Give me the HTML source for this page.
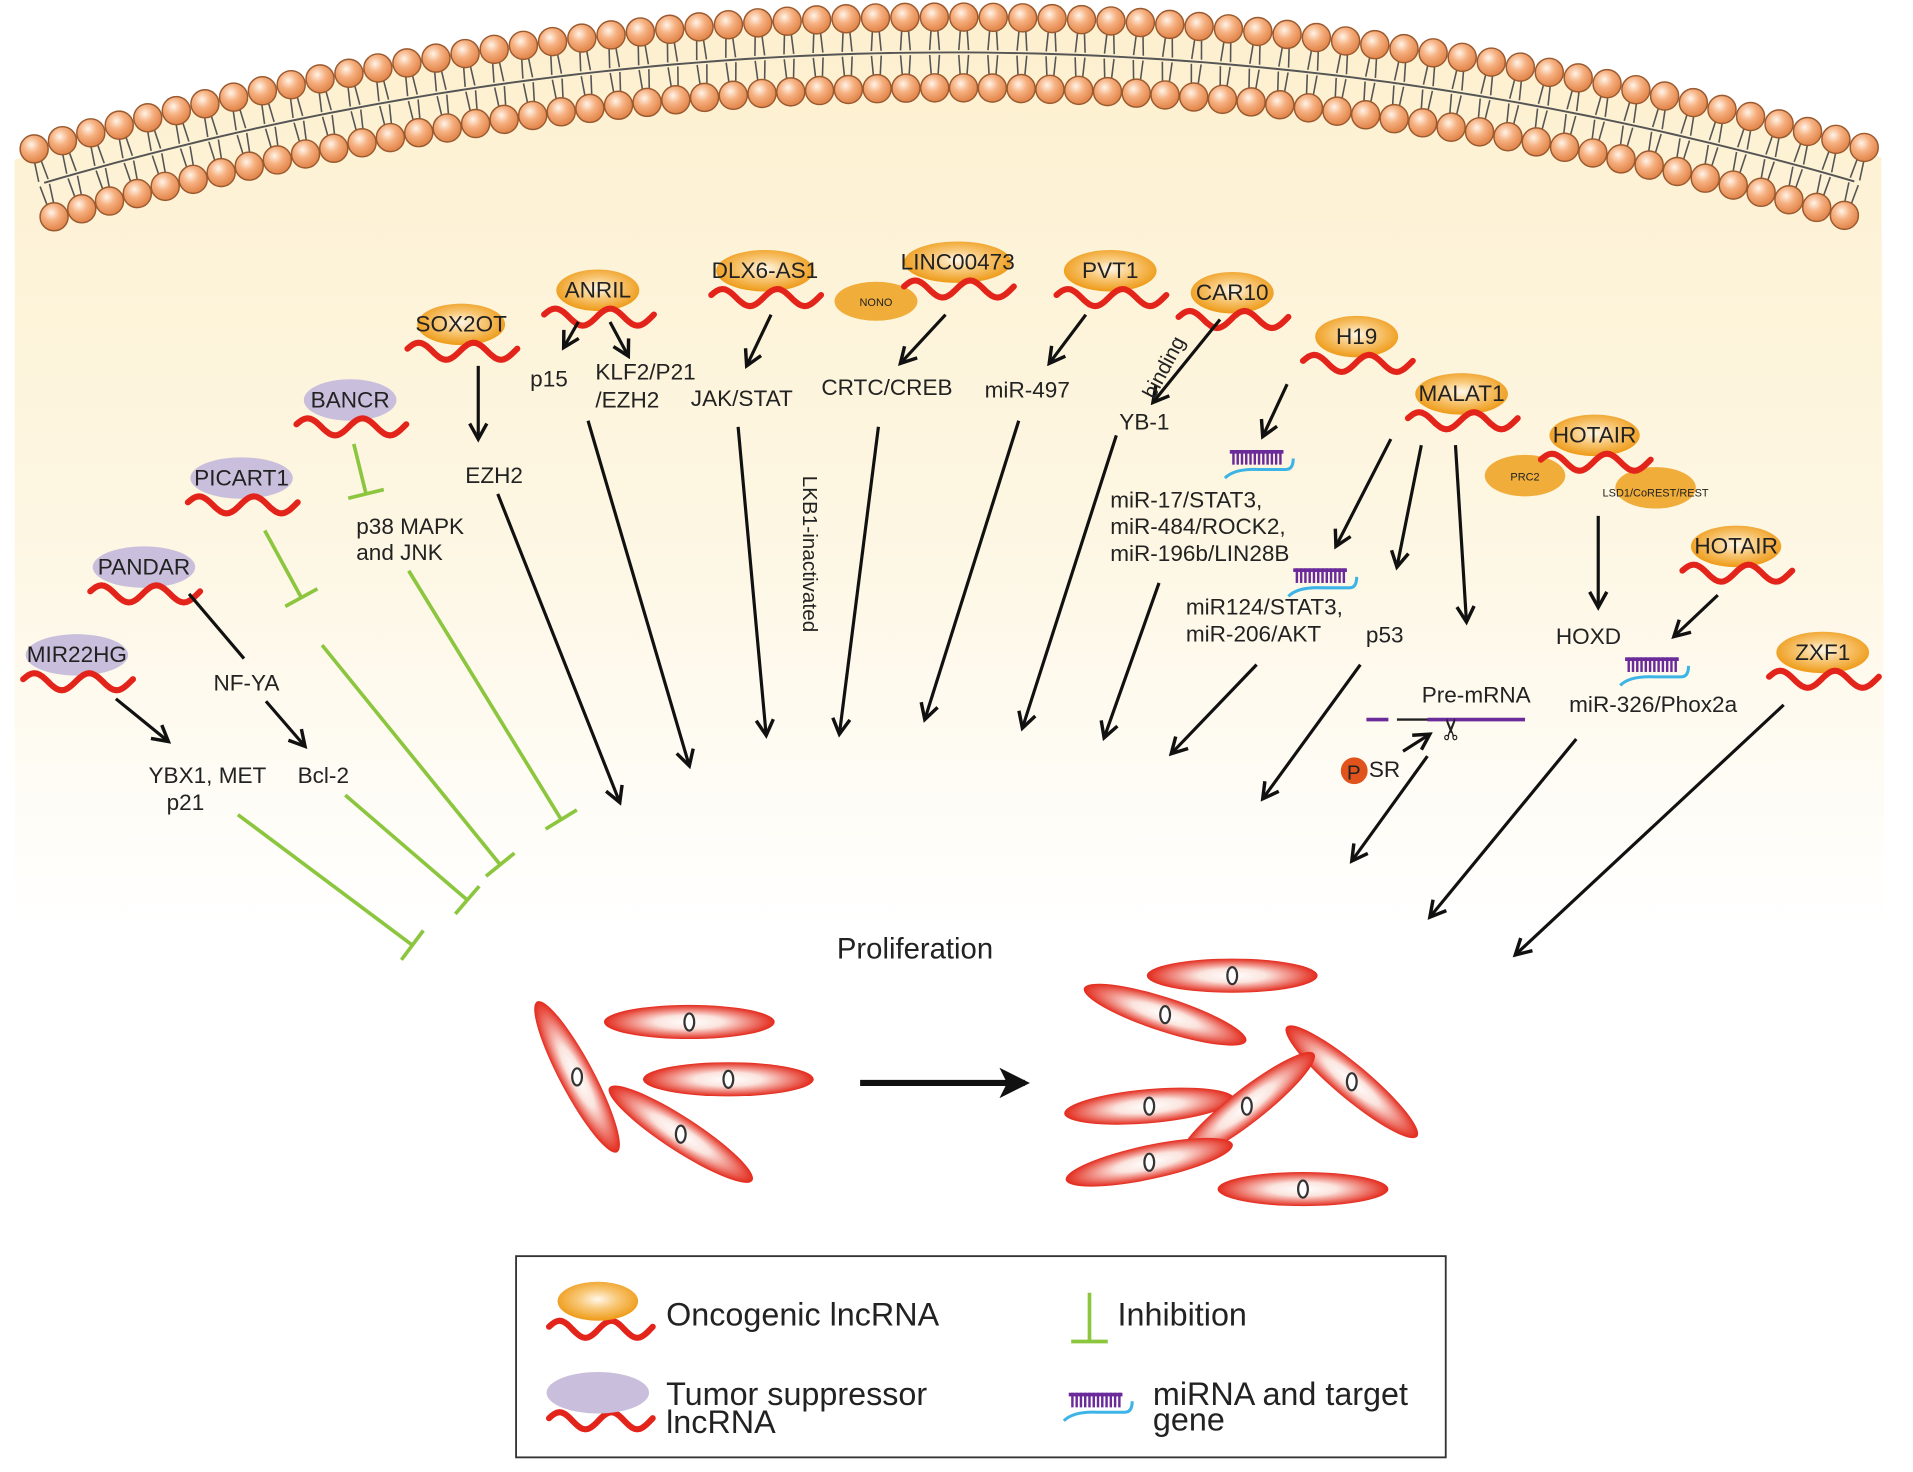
<!DOCTYPE html>
<html><head><meta charset="utf-8"><style>
html,body{margin:0;padding:0;background:#fff;}
svg{display:block;}
text{font-family:"Liberation Sans",Arial,sans-serif;fill:#222;}
</style></head><body>
<svg id="s" width="1913" height="1472" viewBox="0 0 1568 1207" preserveAspectRatio="none" xmlns="http://www.w3.org/2000/svg">
<defs>
<linearGradient id="bg" x1="0" y1="0" x2="0" y2="1" gradientUnits="objectBoundingBox">
<stop offset="0" stop-color="#fdf0cf"/><stop offset="0.55" stop-color="#fdf6e2"/><stop offset="1" stop-color="#ffffff"/></linearGradient>
<radialGradient id="og" cx="0.5" cy="0.45" r="0.55"><stop offset="0" stop-color="#fff8ea"/><stop offset="0.45" stop-color="#f8c878"/><stop offset="1" stop-color="#ee9a16"/></radialGradient>
<radialGradient id="hg" cx="0.4" cy="0.35" r="0.6"><stop offset="0" stop-color="#fff4e8"/><stop offset="0.5" stop-color="#f6b080"/><stop offset="1" stop-color="#e48a50"/></radialGradient>
<radialGradient id="cg" cx="0.5" cy="0.5" r="0.5"><stop offset="0" stop-color="#ffffff"/><stop offset="0.4" stop-color="#fbe4de"/><stop offset="1" stop-color="#e32a1c"/></radialGradient>
<marker id="ah" viewBox="0 0 12 12" refX="10" refY="6" markerWidth="6.5" markerHeight="6.5" orient="auto" markerUnits="strokeWidth"><path d="M1,1 L10,6 L1,11" fill="none" stroke="#111" stroke-width="2"/></marker>
<marker id="af" viewBox="0 0 12 12" refX="10" refY="6" markerWidth="5" markerHeight="5" orient="auto" markerUnits="strokeWidth"><path d="M0,0 L12,6 L0,12 L3,6 z" fill="#111"/></marker>
</defs>
<g id="bgl"></g>
<g id="mem"></g>
<g id="nodes"></g>
<g id="lines" stroke="#111" stroke-width="2.6" fill="none"></g>
<g id="green" stroke="#8cc63f" stroke-width="3" fill="none"></g>
<g id="txt" font-size="18.5"></g>
<g id="cells"></g>
</svg>
<script>
var NS="http://www.w3.org/2000/svg";
function el(p,t,a,tx){var e=document.createElementNS(NS,t);for(var k in a)e.setAttribute(k,a[k]);if(tx!==undefined)e.textContent=tx;document.getElementById(p).appendChild(e);return e;}
var cx=780,cy=2684,R=2670;
var d="M12,"+(cy-Math.sqrt(R*R-(12-cx)*(12-cx))+4);
for(var x=12;x<=1545;x+=10){d+=" L"+x+","+(cy-Math.sqrt(R*R-(x-cx)*(x-cx))+4);}
d+=" L1545,760 L12,760 Z";
el("bgl","path",{d:d,fill:"url(#bg)"});
var a0=Math.asin((28-cx)/R),a1=Math.asin((1528-cx)/R),n=64;
var md="";
for(var i=0;i<=100;i++){var a=a0+(a1-a0)*i/100;var px=cx+(R-29)*Math.sin(a),py=cy-(R-29)*Math.cos(a);md+=(i?"L":"M")+px.toFixed(1)+","+py.toFixed(1);}
el("mem","path",{d:md,stroke:"#555",fill:"none","stroke-width":"1.6"});
for(var i=0;i<n;i++){var a=a0+(a1-a0)*i/(n-1);var s=Math.sin(a),c=Math.cos(a);
 [[R,1],[R-58,-1]].forEach(function(q){var r=q[0],dir=q[1];
  var hx=cx+r*s,hy=cy-r*c;
  for(var k=-1;k<=1;k+=2){var ox=c*4*k,oy=s*4*k;
   var r2=r-dir*27; var tx=cx+r2*s+ox,ty=cy-r2*c+oy;
   el("mem","line",{x1:hx+ox*0.5,y1:hy+oy*0.5,x2:tx,y2:ty,stroke:"#555","stroke-width":"1.3"});}
  el("mem","circle",{cx:hx,cy:hy,r:11.5,fill:"url(#hg)",stroke:"#9a5a30","stroke-width":"1.2"});
 });}
function wave(x,y,w){var p="";for(var i=0;i<=40;i++){var t=i/40;p+=(i?"L":"M")+(x+t*w).toFixed(1)+","+(y-7*Math.sin(t*Math.PI*4+0.3)).toFixed(1);}
 el("nodes","path",{d:p,stroke:"#e3241b","stroke-width":"5",fill:"none","stroke-linecap":"round"});}
function node(lbl,x,y,type,rx){rx=rx||34;
 el("nodes","ellipse",{cx:x,cy:y,rx:rx,ry:17,fill:type?"#c9bfdc":"url(#og)"});
 wave(x-44,y+22,90);
 el("nodes","text",{x:x,y:y+6,"text-anchor":"middle","font-size":"18.5","font-family":"Liberation Sans, sans-serif"},lbl);}
el("nodes","ellipse",{cx:718,cy:247,rx:34,ry:16,fill:"#f0ad3a"});
el("nodes","text",{x:718,y:251,"text-anchor":"middle","font-size":"9",fill:"#555"},"NONO");
el("nodes","ellipse",{cx:1250,cy:390,rx:33,ry:17,fill:"#f0ad3a"});
el("nodes","text",{x:1250,y:394,"text-anchor":"middle","font-size":"9",fill:"#555"},"PRC2");
el("nodes","ellipse",{cx:1357,cy:400,rx:33,ry:17,fill:"#f0ad3a"});
node("SOX2OT",378,266,0,36);node("ANRIL",490,238,0);node("DLX6-AS1",627,222,0,40);node("LINC00473",785,215,0,44);
node("PVT1",910,222,0,38);node("CAR10",1010,240,0);node("H19",1112,276,0);node("MALAT1",1198,323,0,38);
node("HOTAIR",1307,357,0,37);node("HOTAIR",1423,448,0,37);node("ZXF1",1494,535,0,38);
node("BANCR",287,328,1,38);node("PICART1",198,392,1,42);node("PANDAR",118,465,1,42);node("MIR22HG",63,537,1,42);
el("nodes","text",{x:1357,y:407,"text-anchor":"middle","font-size":"9",fill:"#555"},"LSD1/CoREST/REST");
function mir(g,x,y){
 el(g,"path",{d:"M"+(x+6)+","+(y+17)+" Q"+(x+14)+","+(y+9)+" "+(x+34)+","+(y+10)+" L"+(x+56)+","+(y+10)+" Q"+(x+62)+","+(y+10)+" "+(x+62)+","+(y+1),stroke:"#3cb4e6","stroke-width":"2.5",fill:"none"});
 el(g,"rect",{x:x+10,y:y-6,width:44,height:3,fill:"#6a2a9a"});
 for(var i=0;i<12;i++)el(g,"rect",{x:x+12+i*3.5,y:y-6,width:2,height:12,fill:"#6a2a9a"});}
mir("nodes",998,375);mir("nodes",1050,472);mir("nodes",1322,545);mir("nodes",866,1148);
function ar(x1,y1,x2,y2){el("lines","line",{x1:x1,y1:y1,x2:x2,y2:y2,"marker-end":"url(#ah)"});}
function ln(x1,y1,x2,y2){el("lines","line",{x1:x1,y1:y1,x2:x2,y2:y2});}
ar(392,300,392,360);ar(474,264,462,285);ar(500,264,515,292);ar(632,258,612,300);ar(775,258,738,298);
ar(890,258,860,298);ar(1000,262,945,330);ar(1055,315,1035,358);
ar(1140,360,1095,448);ar(1165,365,1145,465);ar(1193,365,1202,510);ar(1310,423,1310,498);ar(1408,488,1372,522);
ar(95,573,138,608);ar(218,575,250,612);ln(155,487,200,540);ar(1150,616,1172,602);
ar(408,405,508,658);ar(482,345,565,628);ar(605,350,628,603);ar(720,350,688,602);ar(835,345,758,590);
ar(915,357,838,597);ar(950,478,905,605);ar(1030,545,960,618);ar(1115,545,1035,655);ar(1170,620,1108,706);
ar(1292,606,1172,752);ar(1462,578,1242,783);
function inh(x1,y1,x2,y2){el("green","line",{x1:x1,y1:y1,x2:x2,y2:y2});var dx=x2-x1,dy=y2-y1,L=Math.hypot(dx,dy);var px=-dy/L*15,py=dx/L*15;
 el("green","line",{x1:x2+px,y1:y2+py,x2:x2-px,y2:y2-py});}
inh(290,364,300,405);inh(335,468,460,672);inh(217,435,247,490);inh(264,529,410,709);inh(283,652,383,738);inh(195,668,338,775);
inh(893,1060,893,1100);
function t(s,x,y,o){o=o||{};var a={x:x,y:y};for(var k in o)a[k]=o[k];el("txt","text",a,s);}
t("p15",450,317,{"text-anchor":"middle"});t("KLF2/P21",488,311);t("/EZH2",488,334);t("JAK/STAT",608,333,{"text-anchor":"middle"});
t("CRTC/CREB",727,324,{"text-anchor":"middle"});t("miR-497",842,326,{"text-anchor":"middle"});t("YB-1",938,352,{"text-anchor":"middle"});
t("binding",0,0,{transform:"translate(946,328) rotate(-62)","font-size":"17"});
t("EZH2",405,396,{"text-anchor":"middle"});t("p38 MAPK",292,438);t("and JNK",292,459);
t("LKB1-inactivated",0,0,{transform:"translate(658,390) rotate(90)","font-size":"17"});
t("miR-17/STAT3,",910,416);t("miR-484/ROCK2,",910,438);t("miR-196b/LIN28B",910,460);
t("miR124/STAT3,",972,504);t("miR-206/AKT",972,526);t("p53",1135,527,{"text-anchor":"middle"});t("HOXD",1302,528,{"text-anchor":"middle"});
t("Pre-mRNA",1210,576,{"text-anchor":"middle"});t("miR-326/Phox2a",1355,584,{"text-anchor":"middle"});
t("NF-YA",202,566,{"text-anchor":"middle"});t("YBX1, MET",170,642,{"text-anchor":"middle"});t("p21",152,664,{"text-anchor":"middle"});t("Bcl-2",265,642,{"text-anchor":"middle"});
el("txt","line",{x1:1120,y1:590,x2:1138,y2:590,stroke:"#6a2a9a","stroke-width":"3"});
el("txt","line",{x1:1145,y1:590,x2:1200,y2:590,stroke:"#222","stroke-width":"2"});
el("txt","line",{x1:1170,y1:590,x2:1250,y2:590,stroke:"#6a2a9a","stroke-width":"3"});
el("txt","text",{x:1190,y:606,"text-anchor":"middle","font-size":"24",fill:"#444"},"\u2702").setAttribute("transform","rotate(-90 1190 598)");
el("txt","circle",{cx:1110,cy:632,r:11,fill:"#e0531c"});t("P",1104,639,{"font-size":"17"});t("SR",1122,637);
t("Proliferation",750,786,{"text-anchor":"middle","font-size":"24"});
function cell(x,y,rot,rx){rx=rx||70;var g=el("cells","g",{transform:"translate("+x+","+y+") rotate("+rot+")"});
 var e=document.createElementNS(NS,"ellipse");e.setAttribute("rx",rx);e.setAttribute("ry",14);e.setAttribute("fill","url(#cg)");g.appendChild(e);
 var m=document.createElementNS(NS,"ellipse");m.setAttribute("rx",4);m.setAttribute("ry",7);m.setAttribute("fill","#fff");m.setAttribute("stroke","#333");m.setAttribute("stroke-width","1.8");m.setAttribute("transform","rotate("+(-rot)+")");g.appendChild(m);}
cell(565,838,0);cell(473,883,62);cell(597,885,0);cell(558,930,33);
cell(1010,800,0);cell(955,832,18);cell(1108,887,40);cell(942,907,-5);cell(1022,907,-38);cell(942,953,-12);cell(1068,975,0);
el("lines","line",{x1:705,y1:888,x2:840,y2:888,"stroke-width":"5","marker-end":"url(#af)"});
el("cells","rect",{x:423,y:1030,width:762,height:165,fill:"none",stroke:"#333","stroke-width":"1.5"});
el("cells","ellipse",{cx:490,cy:1067,rx:33,ry:16,fill:"url(#og)"});
el("cells","ellipse",{cx:490,cy:1142,rx:42,ry:17,fill:"#c9bfdc"});
wave(450,1090,85);wave(450,1165,85);
t("Oncogenic lncRNA",546,1087,{"font-size":"26.5"});t("Tumor suppressor",546,1152,{"font-size":"26.5"});t("lncRNA",546,1175,{"font-size":"26.5"});
t("Inhibition",916,1087,{"font-size":"26.5"});t("miRNA and target",945,1152,{"font-size":"26.5"});t("gene",945,1173,{"font-size":"26.5"});
</script>
</body></html>
